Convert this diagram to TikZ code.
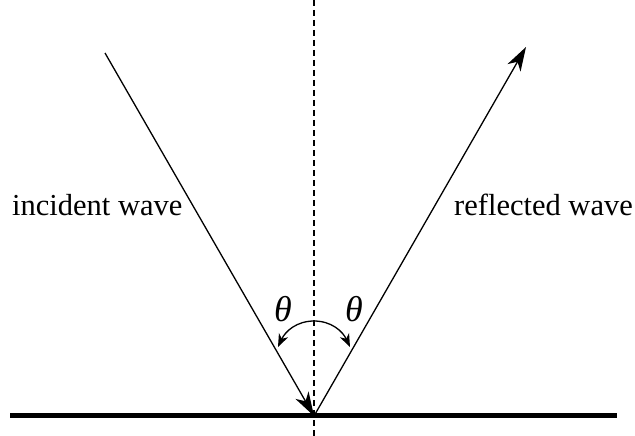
\documentclass[tikz,border=0pt]{standalone}
\usepackage{fontspec}
\setmainfont{Liberation Serif}
\usetikzlibrary{arrows.meta}
\begin{document}
\begin{tikzpicture}[x=1pt,y=-1pt,
  ray/.style={line width=1.3pt},
  bigtip/.style={-{Stealth[length=24pt,width=15pt,inset=7pt]}},
  arcline/.style={line width=1.3pt,{Stealth[length=13pt,width=10pt,inset=4pt]}-{Stealth[length=13pt,width=10pt,inset=4pt]}},
  lbl/.style={inner sep=0pt,font=\fontsize{30.5}{36}\selectfont},
  ang/.style={inner sep=0pt,font=\fontsize{36}{40}\selectfont\itshape}]
\useasboundingbox (0,0) rectangle (635,436);
\coordinate (top) at (314,0);
\coordinate (bot) at (314,436);
\coordinate (O) at (314,416);
\coordinate (I) at (105,53);
\coordinate (R) at (526,47);
\coordinate (gl) at (10,415.5);
\coordinate (gr) at (617,415.5);
\coordinate (al) at (278,347);
\coordinate (at) at (314,321);
\coordinate (ar) at (350,347);
\draw[line width=1.2pt,dash pattern=on 6pt off 4pt] (top) -- (bot);
\draw[line width=5pt] (gl) -- (gr);
\draw[ray,bigtip] (I) -- (O);
\draw[ray,bigtip] (O) -- (R);
\draw[arcline] (al) to[out=65,in=180] (at) to[out=0,in=115] (ar);
\node[ang] (thl) at (283,309) {θ};
\node[ang] (thr) at (354,309) {θ};
\node[lbl,anchor=base west] (inc) at (12,215) {incident wave};
\node[lbl,anchor=base east] (ref) at (633,215) {reflected wave};
\end{tikzpicture}
\end{document}
